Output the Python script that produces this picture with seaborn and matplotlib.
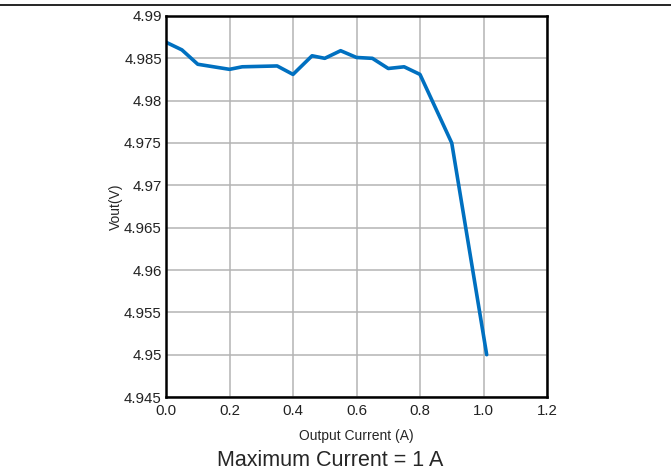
import pandas as pd
import matplotlib
matplotlib.use("Agg")
import matplotlib.pyplot as plt
import seaborn as sns

# Output current (A) and measured output voltage (V)
current = [0.0, 0.05, 0.1, 0.2, 0.24, 0.35, 0.4, 0.46, 0.5, 0.55,
           0.6, 0.65, 0.7, 0.75, 0.8, 0.9, 1.01]
vout = [4.9869, 4.9860, 4.9843, 4.9837, 4.9840, 4.9841, 4.9831, 4.9853, 4.9850, 4.9859,
        4.9851, 4.9850, 4.9838, 4.9840, 4.9831, 4.9750, 4.9500]

x_ticks = [0.0, 0.2, 0.4, 0.6, 0.8, 1.0, 1.2]
x_tick_labels = ["0.0", "0.2", "0.4", "0.6", "0.8", "1.0", "1.2"]
y_ticks = [4.945, 4.95, 4.955, 4.96, 4.965, 4.97, 4.975, 4.98, 4.985, 4.99]
y_tick_labels = ["4.945", "4.95", "4.955", "4.96", "4.965", "4.97", "4.975", "4.98", "4.985", "4.99"]

df = pd.DataFrame({"current": current, "vout": vout})

sns.set_style("white")
plt.rcParams["font.family"] = ["Liberation Sans", "DejaVu Sans"]

fig = plt.figure(figsize=(6.71, 4.69), dpi=100)
ax = fig.add_axes([0.2474, 0.1535, 0.5678, 0.8124])

sns.lineplot(data=df, x="current", y="vout", ax=ax, color="#0070C0", linewidth=2.6)

ax.set_xlim(0, 1.2)
ax.set_ylim(4.945, 4.99)
ax.set_xticks(x_ticks)
ax.set_xticklabels(x_tick_labels)
ax.set_yticks(y_ticks)
ax.set_yticklabels(y_tick_labels)
ax.tick_params(length=0, labelsize=10.8, colors="#222222")
ax.tick_params(axis="x", pad=5)
ax.tick_params(axis="y", pad=3)
ax.grid(True, color="#b4b4b4", linewidth=1.1)

for s in ax.spines.values():
    s.set_color("black")
    s.set_linewidth(1.8)

ax.set_xlabel("Output Current (A)", fontsize=10, labelpad=8)
ax.set_ylabel("Vout(V)", fontsize=10)
ax.yaxis.set_label_coords(-0.114, 0.5)

fig.text(0.4925, 1 - 460 / 469, "Maximum Current = 1 A", fontsize=15.5,
         ha="center", va="center")

# thin rule across the top of the figure
fig.add_artist(plt.Line2D([0, 1], [1 - 5 / 469, 1 - 5 / 469], color="black", linewidth=1.2))

fig.savefig("out.png", dpi=100)
